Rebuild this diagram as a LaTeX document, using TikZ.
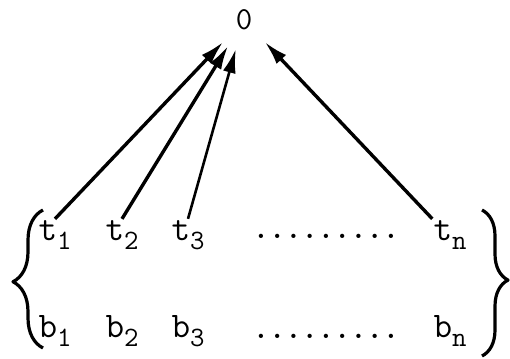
\documentclass[tikz,border=0pt]{standalone}
\usepackage{tikz}
\usetikzlibrary{arrows.meta,decorations.pathreplacing}
\newcommand{\subl}[1]{\raisebox{-9pt}{\fontsize{28}{30}\selectfont #1}}

\begin{document}
\begin{tikzpicture}[x=1pt, y=-1pt, line join=round,
    lbl/.style={font=\fontsize{36}{38}\selectfont\ttfamily, anchor=base, inner sep=1pt},
    arr/.style={-{Latex[length=24pt, width=13pt]}, line width=3.4pt},
    brc/.style={decorate, line width=3.2pt, decoration={brace, amplitude=#1, aspect=0.48}}]
    \useasboundingbox (0,0) rectangle (510,358);

    \node[circle, minimum size=60pt, inner sep=0pt] (o) at (244,20) {};
    \node[font=\fontsize{32}{34}\selectfont\ttfamily, inner sep=0pt] (olbl) at (244,20) {0};

    % top row
    \node[lbl] (t1) at (55,240) {t\subl{1}};
    \node[lbl] (t2) at (122,240) {t\subl{2}};
    \node[lbl] (t3) at (188,240) {t\subl{3}};
    \node[lbl, font=\fontsize{31}{33}\selectfont\ttfamily\bfseries] (tdots) at (326,238) {.........};
    \node[lbl] (tn) at (450,240) {t\subl{n}};

    % bottom row
    \node[lbl] (b1) at (55,337) {b\subl{1}};
    \node[lbl] (b2) at (122,337) {b\subl{2}};
    \node[lbl] (b3) at (188,337) {b\subl{3}};
    \node[lbl, font=\fontsize{31}{33}\selectfont\ttfamily\bfseries] (bdots) at (326,338) {.........};
    \node[lbl] (bn) at (450,337) {b\subl{n}};

    \draw[arr] (t1.north) -- (o);
    \draw[arr] (t2.north) -- (o);
    \draw[arr, line width=2.6pt] (t3.north) -- (o);
    \draw[arr] (tn.north west) -- (o);

    \draw[brc=30pt] (43,348) -- (43,210);
    \draw[brc=26pt] (482,210) -- (482,356);
\end{tikzpicture}
\end{document}
